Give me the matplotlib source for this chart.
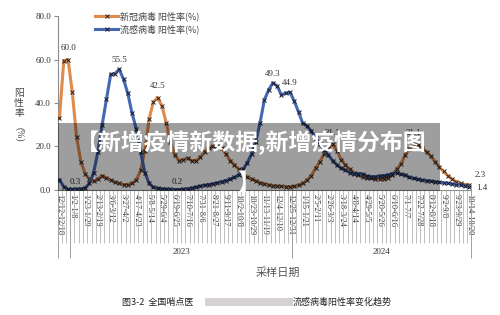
import matplotlib
matplotlib.use('Agg')
import matplotlib.pyplot as plt
import matplotlib.transforms as mtransforms
from matplotlib.patches import Rectangle
import numpy as np

# ---- data (weekly positivity, %) ----
covid = [
    33.0, 59.5, 60.0, 45.0, 24.4, 13.0, 7.5, 5.0, 4.0, 5.0,
    6.5, 5.5, 4.5, 3.5, 3.0, 2.5, 2.5, 3.0, 4.5, 9.0,
    18.0, 32.6, 40.6, 42.5, 38.6, 31.0, 22.0, 16.0, 13.5, 14.0,
    14.5, 13.5, 13.5, 15.0, 17.5, 19.5, 20.0, 20.0, 19.3, 16.5,
    13.5, 11.5, 9.5, 7.5, 6.0, 5.0, 4.2, 3.3, 2.8, 2.3,
    2.0, 1.8, 1.6, 1.5, 1.5, 1.6, 2.2, 3.0, 4.5, 6.5,
    10.0, 13.0, 16.5, 19.5, 21.1, 18.0, 14.0, 11.5, 9.5, 8.0,
    7.0, 6.0, 5.5, 5.3, 5.2, 5.1, 5.0, 5.5, 7.0, 9.5,
    12.0, 16.0, 19.0, 21.1, 20.5, 19.3, 17.5, 15.5, 13.0, 10.5,
    8.5, 6.5, 5.0, 3.8, 3.0, 2.5, 2.3]

flu = [
    4.6, 1.5, 0.3, 0.3, 0.4, 0.5, 0.8, 3.0, 8.0, 17.6,
    30.0, 41.7, 53.2, 53.5, 55.5, 50.9, 44.4, 35.3, 28.0, 17.6,
    8.0, 3.0, 1.2, 0.8, 0.5, 0.4, 0.3, 0.2, 0.2, 0.3,
    0.5, 0.9, 1.3, 1.8, 2.1, 2.5, 2.8, 3.3, 3.8, 4.3,
    5.0, 5.8, 6.9, 9.5, 12.5, 16.5, 22.2, 31.0, 41.4, 46.0,
    49.3, 47.8, 43.7, 44.6, 44.9, 40.9, 35.9, 30.6, 29.4, 27.0,
    24.0, 21.0, 18.5, 16.0, 13.5, 11.5, 10.0, 9.2, 8.0, 7.4,
    7.5, 7.2, 6.4, 6.1, 6.1, 6.4, 6.6, 6.9, 7.5, 8.0,
    7.2, 6.9, 5.8, 5.3, 4.9, 4.5, 4.3, 4.0, 3.8, 3.5,
    3.3, 3.1, 2.8, 2.5, 2.2, 1.8, 1.4]

week_labels = [
    "12/12-12/18", "1/2-1/8", "1/23-1/29", "2/13-2/19", "3/6-3/12",
    "3/27-4/2", "4/17-4/23", "5/8-5/14", "5/29-6/4", "6/19-6/25",
    "7/10-7/16", "7/31-8/6", "8/21-8/27", "9/11-9/17", "10/2-10/8",
    "10/23-10/29", "11/13-11/19", "12/4-12/10", "12/25-12/31", "1/15-1/21",
    "2/5-2/11", "2/26-3/3", "3/18-3/24", "4/8-4/14", "4/29-5/5",
    "5/20-5/26", "6/10-6/16", "7/1-7/7", "7/22-7/28", "8/12-8/18",
    "9/2-9/8", "9/23-9/29", "10/14-10/20"]
label_step = 3

years = ["2023", "2024"]
year_start_idx = [3, 55]   # first week of each year

series_names = ["新冠病毒 阳性率(%)", "流感病毒 阳性率(%)"]

# points that carry a value label
covid_labelled = [2, 23, 64, 83, 96]
flu_labelled = [3, 14, 27, 50, 54, 96]

orange = '#E08A4B'
blue = '#4568B2'
grey = '#8c8c8c'
txt = '#333333'

plt.rcParams['font.family'] = ['Liberation Serif', 'Noto Sans CJK SC']

fig = plt.figure(figsize=(5, 3.15), dpi=100)
ax = fig.add_axes([0.116, 0.397, 0.825, 0.552])

x = np.arange(len(covid))
ax.plot(x, covid, color=orange, lw=2.2, marker='x', ms=3, mec='#222222', mew=0.7,
        solid_joinstyle='round', label=series_names[0], zorder=3)
ax.plot(x, flu, color=blue, lw=2.2, marker='x', ms=3, mec='#1a1a2a', mew=0.7,
        solid_joinstyle='round', label=series_names[1], zorder=3)

ax.set_xlim(-0.35, 96.3)
ax.set_ylim(0, 80)
for s in ['top', 'right']:
    ax.spines[s].set_visible(False)
for s in ['left', 'bottom']:
    ax.spines[s].set_color(grey)
    ax.spines[s].set_linewidth(0.8)

ax.set_yticks(np.arange(0, 81, 20))
ax.yaxis.set_major_formatter('{x:.1f}')
ax.tick_params(axis='y', length=3, color=grey, labelsize=6.5, labelcolor=txt, pad=2)

ax.set_xticks(x[::label_step])
ax.set_xticklabels(week_labels, rotation=270, fontsize=6, color=txt)
ax.tick_params(axis='x', which='major', length=0, pad=3)
ax.set_xticks(np.arange(0.5, len(x) - 1, 1), minor=True)
ax.tick_params(axis='x', which='minor', length=38, color='#b4b4b4', width=0.6)

# year group lines and labels
trans = mtransforms.blended_transform_factory(ax.transData, ax.transAxes)
bounds = [ax.get_xlim()[0]] + [i - 0.5 for i in year_start_idx] + [ax.get_xlim()[1]]
ax.vlines(bounds, -0.39, 0, transform=trans, color='#a0a0a0', lw=0.7, clip_on=False)
for k, yr in enumerate(years):
    cx = (bounds[k + 1] + bounds[k + 2]) / 2
    ax.text(cx, -0.356, yr, transform=trans, ha='center', va='center',
            fontsize=6.5, color=txt)

# value labels
for i in covid_labelled:
    if i == len(x) - 1:
        ax.annotate(f"{covid[i]:.1f}", (i, covid[i]), xytext=(4, 7), textcoords='offset points',
                    ha='left', va='center', fontsize=6.5, color=txt)
    else:
        ax.annotate(f"{covid[i]:.1f}", (i, covid[i]), xytext=(0, 8), textcoords='offset points',
                    ha='center', va='center', fontsize=6.5, color=txt)
for i in flu_labelled:
    if i == len(x) - 1:
        ax.annotate(f"{flu[i]:.1f}", (i, flu[i]), xytext=(5, -1), textcoords='offset points',
                    ha='left', va='center', fontsize=6.5, color=txt)
    elif flu[i] < 1:
        ax.annotate(f"{flu[i]:.1f}", (i, flu[i]), xytext=(2, 5.5), textcoords='offset points',
                    ha='center', va='center', fontsize=6.5, color=txt)
    else:
        ax.annotate(f"{flu[i]:.1f}", (i, flu[i]), xytext=(0, 6.5), textcoords='offset points',
                    ha='center', va='center', fontsize=6.5, color=txt)

leg = ax.legend(loc='upper left', bbox_to_anchor=(95 / 500, 1 - 11 / 315),
                bbox_transform=fig.transFigure, frameon=False, numpoints=1,
                handlelength=2.6, handletextpad=0.2, labelspacing=0.45,
                borderpad=0, borderaxespad=0,
                prop={'family': ['Noto Sans CJK SC'], 'size': 6.5})
for t in leg.get_texts():
    t.set_color('#444444')

# axis titles
fig.text(19 / 500, 1 - 103 / 315, "阳\n性\n率", ha='center', va='center', fontsize=7,
         family=['Noto Sans CJK SC'], color='#444444', linespacing=1.0)
fig.text(19 / 500, 1 - 134 / 315, "(%)", ha='center', va='center', fontsize=7,
         rotation=270, color='#444444')
fig.text(278 / 500, 1 - 273 / 315, "采样日期", ha='center', va='center', fontsize=8,
         family=['Noto Sans CJK SC'], color='#555555')

# caption (middle part is blurred in the source)
fig.text(122 / 500, 1 - 302 / 315, "图3-2  全国哨点医", ha='left', va='center', fontsize=6.5,
         family=['Noto Sans CJK SC'], color='#222222')
fig.patches.append(Rectangle((205 / 500, 1 - 306 / 315), 88 / 500, 8 / 315,
                             transform=fig.transFigure, color='#c9c3c5', alpha=0.75, lw=0))
fig.text(293 / 500, 1 - 302 / 315, "流感病毒阳性率变化趋势", ha='left', va='center', fontsize=6.5,
         family=['Noto Sans CJK SC'], color='#222222')

# grey title banner over the plot
fig.patches.append(Rectangle((58 / 500, 1 - 191 / 315), 382 / 500, 68 / 315,
                             transform=fig.transFigure, color='black', alpha=0.38, lw=0, zorder=5))
fig.text(251 / 500, 1 - 143 / 315, "【新增疫情新数据,新增疫情分布图", ha='center', va='center',
         fontsize=16.5, fontweight='bold', family=['Noto Sans CJK SC'], color='white', zorder=6)
fig.text(249 / 500, 1 - 183 / 315, "】", ha='center', va='center',
         fontsize=16.5, fontweight='bold', family=['Noto Sans CJK SC'], color='white', zorder=6)

fig.savefig('out.png', dpi=100)
